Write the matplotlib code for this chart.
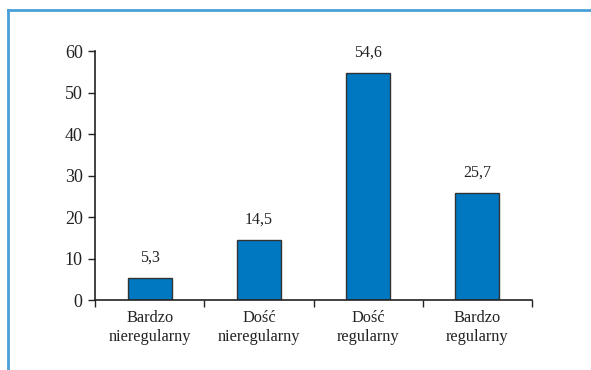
import numpy as np
import matplotlib.pyplot as plt
from matplotlib.lines import Line2D

plt.rcParams['font.family'] = ['Liberation Serif', 'DejaVu Serif']

# dane
kategorie = ['Bardzo\nnieregularny', 'Dość\nnieregularny', 'Dość\nregularny', 'Bardzo\nregularny']
wartosci = [5.3, 14.5, 54.6, 25.7]
etykiety = ['5,3', '14,5', '54,6', '25,7']

fig = plt.figure(figsize=(5.91, 3.70), dpi=100)
ax = fig.add_axes([0.161, 0.189, 0.739, 0.673])

x = np.arange(len(kategorie))
bary = ax.bar(x, wartosci, width=0.4, color='#0077c1', edgecolor='#333333', linewidth=1)

for b, t in zip(bary, etykiety):
    ax.annotate(t, (b.get_x() + b.get_width() / 2, b.get_height()),
                xytext=(0, 9), textcoords='offset points',
                ha='center', va='bottom', fontsize=11.5, color='#222222')

ax.set_xlim(-0.5, len(kategorie) - 0.5)
ax.set_ylim(0, 60)
ax.set_yticks(range(0, 61, 10))
ax.tick_params(axis='y', labelsize=13, length=5, width=1, colors='#222222', pad=4)

# etykiety kategorii bez kresek, kreski na granicach
ax.set_xticks(x)
ax.set_xticklabels(kategorie, fontsize=11.8, linespacing=1.25)
ax.tick_params(axis='x', length=0, pad=7, colors='#222222')
ax.set_xticks(np.arange(-0.5, len(kategorie)), minor=True)
ax.tick_params(axis='x', which='minor', length=5, width=1, color='#222222')

for s in ['top', 'right']:
    ax.spines[s].set_visible(False)
for s in ['left', 'bottom']:
    ax.spines[s].set_color('#222222')
    ax.spines[s].set_linewidth(1.2)

# ramka
fig.add_artist(Line2D([8 / 591, 1], [1 - 10 / 370, 1 - 10 / 370], color='#4aa0d6', lw=2, transform=fig.transFigure))
fig.add_artist(Line2D([8 / 591, 8 / 591], [0, 1 - 10 / 370], color='#4aa0d6', lw=2, transform=fig.transFigure))

fig.savefig('out.png', dpi=100)
